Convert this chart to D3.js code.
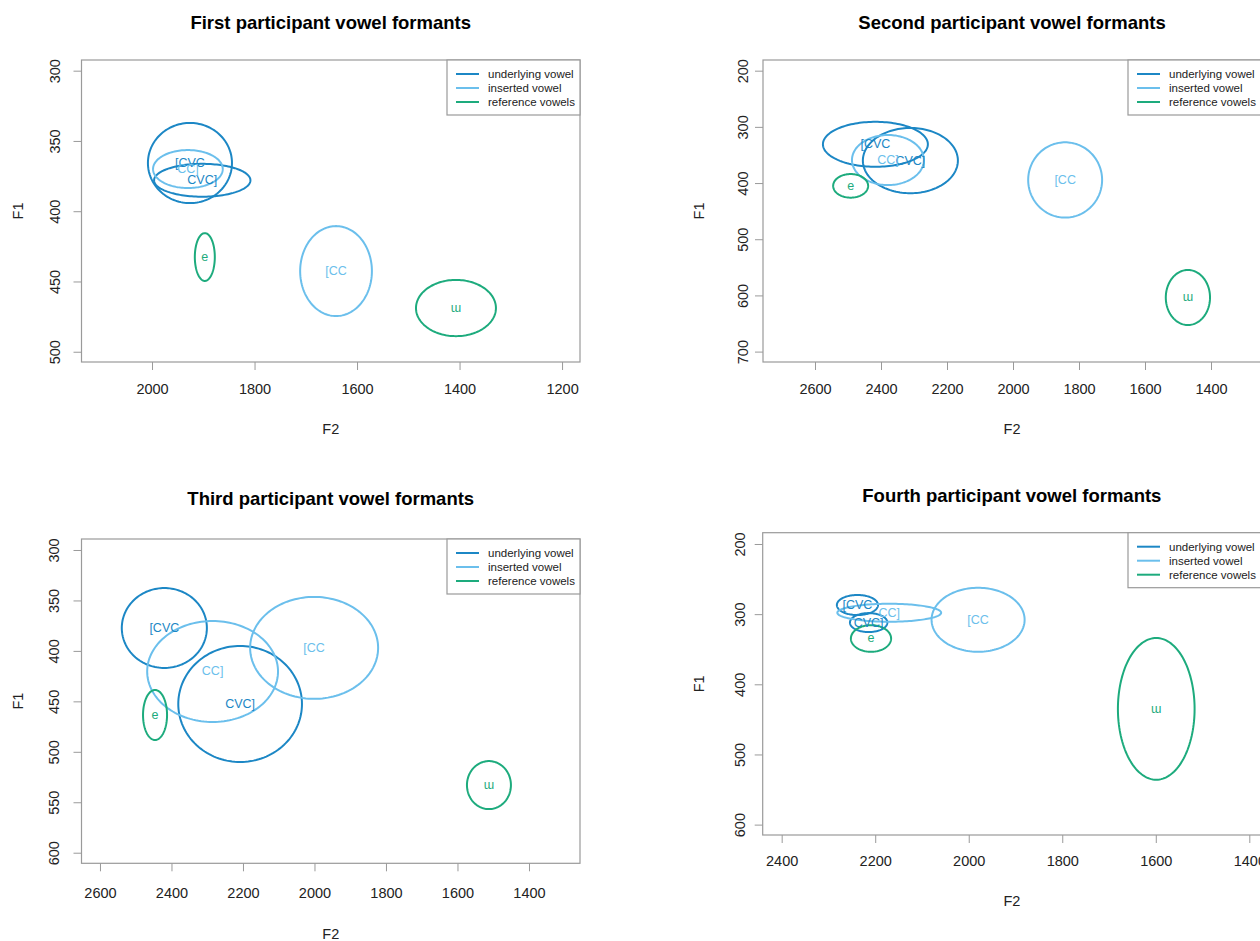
<!DOCTYPE html>
<html><head><meta charset="utf-8">
<script src="https://cdn.jsdelivr.net/npm/d3@7"></script>
<style>body{margin:0;background:#fff}svg{display:block;font-family:"Liberation Sans",Arial,Helvetica,sans-serif}</style>
</head><body><svg id="c" width="1260" height="941"></svg>
<script>
// ---------- data ----------
const titles = ["First participant vowel formants","Second participant vowel formants","Third participant vowel formants","Fourth participant vowel formants"];
const vowelLabels = ["[CVC","CVC]","[CC","CC]","e","ɯ"];
const vowelTypes  = ["underlying","underlying","inserted","inserted","reference","reference"];
const legendLabels = ["underlying vowel","inserted vowel","reference vowels"];
const legendTypes  = ["underlying","inserted","reference"];

// centre F2, centre F1, F2 radius, F1 radius (Hz) for each participant
const p1F2  = [1926, 1902, 1641, 1930, 1897, 1407];
const p1F1  = [365.7, 378, 442.6, 370, 432.6, 468.9];
const p1F2r = [82, 94, 70, 68, 19.5, 78];
const p1F1r = [28.5, 11.7, 32, 13.5, 17, 20];

const p2F2  = [2417, 2311, 1842, 2379, 2492, 1470];
const p2F1  = [331, 360, 394.5, 359, 405, 603.7];
const p2F2r = [159, 144, 112, 109, 53, 67];
const p2F1r = [40, 58, 67, 44.5, 21, 49];

const p3F2  = [2420, 2208, 2001, 2285, 2446, 1512];
const p3F1  = [377.3, 452.6, 397, 420.4, 463.5, 533];
const p3F2r = [119, 173, 179, 183, 33.6, 61.5];
const p3F1r = [39.6, 57.5, 50.5, 50, 24.8, 23.8];

const p4F2  = [2238, 2214, 1980, 2170, 2209, 1599];
const p4F1  = [287, 312, 308, 298, 334.7, 435];
const p4F2r = [44, 40, 99.5, 111, 43, 82];
const p4F1r = [14.3, 13.5, 45.6, 12.8, 19, 101];

const xTicks1 = [2000,1800,1600,1400,1200], yTicks1 = [300,350,400,450,500];
const xTicks2 = [2600,2400,2200,2000,1800,1600,1400], yTicks2 = [200,300,400,500,600,700];
const xTicks3 = [2600,2400,2200,2000,1800,1600,1400], yTicks3 = [300,350,400,450,500,550,600];
const xTicks4 = [2400,2200,2000,1800,1600,1400], yTicks4 = [200,300,400,500,600];

// axis ranges (Hz)
const xRange1 = [2137.6, 1165], yRange1 = [292.4, 507.3];
const xRange2 = [2757.6, 1248.5], yRange2 = [181, 718.5];
const xRange3 = [2651.7, 1257.3], yRange3 = [289.1, 610.5];
const xRange4 = [2440.6, 1375], yRange4 = [183.9, 614.8];

// ---------- style / layout ----------
const colors = {underlying:"#1c87c5", inserted:"#6bbfec", reference:"#1dab7d"};
const panels = [
  {title:titles[0], F2:p1F2, F1:p1F1, F2r:p1F2r, F1r:p1F1r, xt:xTicks1, yt:yTicks1, xr:xRange1, yr:yRange1,
   left:81.5, right:580, top:60, bottom:362, titleY:22, ylabX:55, xlabPad:14, xTitle:67},
  {title:titles[1], F2:p2F2, F1:p2F1, F2r:p2F2r, F1r:p2F1r, xt:xTicks2, yt:yTicks2, xr:xRange2, yr:yRange2,
   left:763, right:1261, top:60, bottom:362, titleY:22, ylabX:743, xlabPad:14, xTitle:67},
  {title:titles[2], F2:p3F2, F1:p3F1, F2r:p3F2r, F1r:p3F1r, xt:xTicks3, yt:yTicks3, xr:xRange3, yr:yRange3,
   left:81.5, right:580, top:539, bottom:863.3, titleY:498, ylabX:54, xlabPad:16, xTitle:71},
  {title:titles[3], F2:p4F2, F1:p4F1, F2r:p4F2r, F1r:p4F1r, xt:xTicks4, yt:yTicks4, xr:xRange4, yr:yRange4,
   left:762.7, right:1261, top:532.7, bottom:835, titleY:495, ylabX:740, xlabPad:13, xTitle:66}
];

const svg = d3.select("#c");
const axisCol = "#9a9a9a", textCol = "#222";

panels.forEach(p => {
  const g = svg.append("g");
  const x = d3.scaleLinear().domain(p.xr).range([p.left, p.right]);
  const y = d3.scaleLinear().domain(p.yr).range([p.top, p.bottom]);

  // title
  g.append("text").attr("x", (p.left+p.right)/2).attr("y", p.titleY)
    .attr("text-anchor","middle").attr("dominant-baseline","central")
    .attr("font-weight","bold").attr("font-size","18.5px").attr("fill","#000").text(p.title);

  // x axis
  const xa = g.append("g").attr("transform",`translate(0,${p.bottom})`)
    .call(d3.axisBottom(x).tickValues(p.xt).tickSize(8).tickSizeOuter(0).tickPadding(p.xlabPad).tickFormat(d3.format("d")));
  xa.select(".domain").remove();
  xa.selectAll("line").attr("stroke",axisCol);
  xa.selectAll("text").attr("font-size","14.5px").attr("fill",textCol).attr("font-family","inherit");

  // y axis
  const ya = g.append("g").attr("transform",`translate(${p.left},0)`)
    .call(d3.axisLeft(y).tickValues(p.yt).tickSize(8).tickSizeOuter(0).tickFormat(d3.format("d")));
  ya.select(".domain").remove();
  ya.selectAll("line").attr("stroke",axisCol);
  ya.selectAll("text").remove();
  ya.selectAll(".tick").append("text")
    .attr("transform", `translate(${p.ylabX - p.left},0) rotate(-90)`)
    .attr("text-anchor","middle").attr("dominant-baseline","central")
    .attr("font-size","14.5px").attr("fill",textCol).text(d => d);

  // box
  g.append("rect").attr("x",p.left).attr("y",p.top).attr("width",p.right-p.left).attr("height",p.bottom-p.top)
    .attr("fill","none").attr("stroke",axisCol).attr("stroke-width",1.2);

  // axis titles
  g.append("text").attr("x",(p.left+p.right)/2).attr("y",p.bottom+p.xTitle)
    .attr("text-anchor","middle").attr("dominant-baseline","central").attr("font-size","14.5px").attr("fill",textCol).text("F2");
  g.append("text").attr("transform",`translate(${p.left-64},${(p.top+p.bottom)/2}) rotate(-90)`)
    .attr("text-anchor","middle").attr("dominant-baseline","central").attr("font-size","14.5px").attr("fill",textCol).text("F1");

  // ellipses
  const line = d3.line().x(d=>x(d[0])).y(d=>y(d[1])).curve(d3.curveLinearClosed);
  const steps = d3.range(0, 144);
  vowelLabels.forEach((lab, i) => {
    const pts = steps.map(k => {
      const t = k/144*2*Math.PI;
      return [p.F2[i] + p.F2r[i]*Math.cos(t), p.F1[i] + p.F1r[i]*Math.sin(t)];
    });
    g.append("path").attr("d", line(pts)).attr("fill","none")
      .attr("stroke", colors[vowelTypes[i]]).attr("stroke-width",2);
  });
  vowelLabels.forEach((lab, i) => {
    g.append("text").attr("x", x(p.F2[i])).attr("y", y(p.F1[i]))
      .attr("text-anchor","middle").attr("dominant-baseline","central")
      .attr("font-size","12.5px").attr("fill", colors[vowelTypes[i]]).text(lab);
  });

  // legend
  const lw = 133, lh = 55;
  const lg = g.append("g").attr("transform",`translate(${p.right-lw},${p.top})`);
  lg.append("rect").attr("width",lw).attr("height",lh).attr("fill","#fff").attr("stroke",axisCol).attr("stroke-width",1.2);
  legendLabels.forEach((t,i)=>{
    const yy = 14 + i*14;
    lg.append("line").attr("x1",9).attr("x2",32).attr("y1",yy).attr("y2",yy)
      .attr("stroke",colors[legendTypes[i]]).attr("stroke-width",2);
    lg.append("text").attr("x",41).attr("y",yy).attr("dominant-baseline","central")
      .attr("font-size","11.5px").attr("fill",textCol).text(t);
  });
});
</script></body></html>
